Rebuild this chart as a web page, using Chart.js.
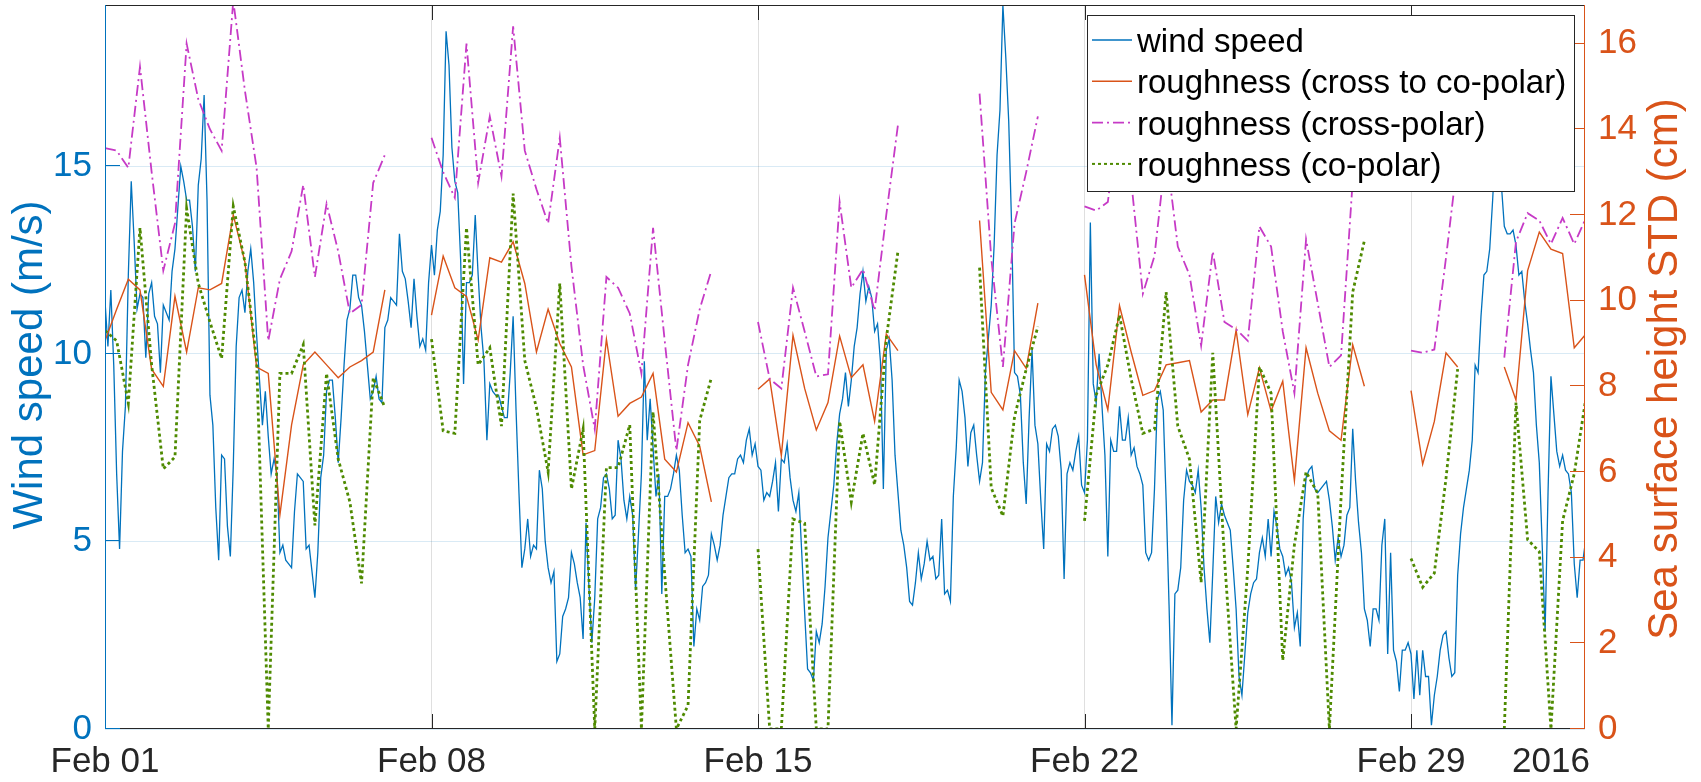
<!DOCTYPE html>
<html>
<head>
<meta charset="utf-8">
<title>Wind speed and sea surface roughness, February 2016</title>
<script src="https://cdn.jsdelivr.net/npm/chart.js@4.4.1/dist/chart.umd.min.js"></script>
<style>
  html, body { margin: 0; padding: 0; background: #ffffff; }
  #wrap { width: 1701px; height: 782px; }
</style>
</head>
<body>
<div id="wrap"><canvas id="grafico" width="1701" height="782"></canvas></div>
<script>
// time axis is in days since Feb 01 00:00
const windStepDays = 0.0625;  // wind every 1.5 h
const roughStepDays = 0.25;   // roughness every 6 h, null = no pass

// wind speed (m/s), one row per day
const windSpeed = [
  11.4, 10.2, 11.7, 9.7, 6.8, 4.8, 7.4, 8.6, 12.1, 14.6, 13.0, 11.2, 11.6, 11.5, 9.9, 11.6,
  11.9, 11.0, 10.8, 9.5, 11.3, 11.1, 10.9, 12.2, 12.8, 13.9, 15.0, 14.6, 14.1, 14.1, 13.4, 12.2,
  14.5, 15.2, 16.9, 14.1, 8.9, 8.1, 5.9, 4.5, 7.3, 7.2, 5.4, 4.6, 7.0, 10.2, 11.5, 11.7,
  11.1, 12.2, 12.8, 11.9, 10.5, 9.3, 8.1, 9.0, 7.8, 6.8, 7.2, 6.8, 4.7, 4.9, 4.5, 4.4,
  4.3, 5.8, 6.8, 6.7, 6.6, 4.8, 4.9, 4.2, 3.5, 4.7, 6.7, 7.3, 9.0, 9.3, 9.3, 8.3,
  7.1, 8.3, 9.7, 10.9, 11.2, 12.1, 12.1, 11.5, 11.3, 10.6, 9.7, 8.8, 9.0, 9.4, 8.8, 8.7,
  10.7, 10.9, 11.5, 11.4, 11.3, 13.2, 12.2, 12.0, 11.4, 10.7, 12.0, 11.0, 10.2, 10.4, 10.1, 11.9,
  12.9, 12.1, 13.3, 13.8, 15.3, 18.6, 17.7, 15.5, 14.6, 14.3, 12.5, 9.2, 11.9, 11.9, 12.1, 13.7,
  12.1, 10.7, 9.8, 7.7, 9.2, 9.0, 8.9, 8.9, 8.6, 8.3, 8.3, 9.5, 11.0, 8.5, 6.3, 4.3,
  4.8, 5.6, 4.6, 4.9, 4.8, 6.9, 6.4, 5.0, 4.3, 3.9, 4.2, 1.8, 2.0, 3.0, 3.2, 3.5,
  4.7, 4.4, 3.9, 3.5, 2.4, 5.5, 3.8, 2.3, 3.5, 5.6, 5.9, 6.7, 6.8, 6.4, 5.6, 5.7,
  7.7, 7.2, 6.1, 5.6, 6.2, 5.7, 3.7, 5.2, 6.8, 9.8, 7.7, 8.8, 7.5, 6.2, 6.8, 3.6,
  6.2, 6.2, 6.4, 6.8, 7.3, 6.9, 5.7, 4.7, 4.8, 4.6, 2.2, 3.2, 2.9, 3.8, 3.9, 4.1,
  5.2, 4.9, 4.5, 4.9, 5.7, 6.2, 6.7, 6.8, 6.8, 7.2, 7.3, 7.1, 7.7, 8.0, 7.3, 7.6,
  7.0, 6.9, 6.1, 6.3, 6.2, 6.6, 7.1, 5.8, 7.2, 7.1, 7.6, 6.7, 6.1, 5.8, 6.3, 4.7,
  3.1, 1.6, 1.5, 1.3, 2.6, 2.3, 2.8, 3.8, 5.1, 5.8, 6.5, 7.6, 8.4, 8.8, 9.5, 8.6,
  9.3, 10.2, 10.7, 11.6, 12.2, 11.4, 11.8, 11.5, 10.6, 10.8, 9.8, 6.4, 10.1, 10.4, 9.3, 7.3,
  6.3, 5.3, 4.9, 4.3, 3.4, 3.3, 3.9, 4.7, 4.0, 4.4, 5.0, 4.5, 4.6, 4.0, 4.1, 5.6,
  3.6, 3.7, 3.4, 6.2, 7.5, 9.3, 9.0, 8.3, 7.0, 7.9, 8.1, 7.3, 6.6, 7.1, 9.5, 10.4,
  11.3, 12.9, 15.3, 16.5, 19.3, 17.9, 16.2, 13.4, 9.5, 9.4, 8.9, 7.1, 6.0, 8.3, 10.1, 8.1,
  7.6, 6.1, 4.8, 7.6, 7.4, 8.0, 8.1, 7.8, 6.9, 4.0, 6.8, 7.1, 6.9, 7.4, 7.8, 6.5,
  6.3, 7.7, 13.5, 9.2, 8.7, 10.0, 8.6, 7.3, 4.6, 7.7, 7.4, 7.4, 8.6, 7.7, 7.7, 8.3,
  7.3, 7.5, 7.0, 6.8, 6.5, 4.7, 4.5, 4.7, 6.4, 8.8, 9.0, 8.5, 6.1, 3.3, 0.1, 3.6,
  3.7, 4.3, 6.1, 6.9, 6.6, 6.5, 6.3, 6.9, 5.9, 4.3, 3.2, 2.3, 4.2, 6.2, 5.5, 6.0,
  5.7, 5.5, 5.3, 4.3, 3.2, 1.4, 0.9, 2.0, 3.1, 3.6, 3.9, 4.0, 4.7, 5.1, 4.6, 5.6,
  4.6, 5.8, 5.4, 4.8, 4.6, 4.1, 4.3, 3.9, 2.7, 3.1, 2.2, 5.6, 6.7, 6.9, 7.0, 6.4,
  6.3, 6.4, 6.5, 6.6, 6.1, 5.4, 4.5, 5.1, 4.6, 4.9, 5.7, 5.9, 8.0, 6.6, 5.5, 4.7,
  3.2, 2.9, 2.2, 3.2, 3.2, 2.9, 4.9, 5.6, 2.0, 4.7, 2.1, 1.8, 1.0, 2.1, 2.1, 2.3,
  2.0, 0.8, 2.1, 0.9, 2.1, 1.4, 1.4, 0.1, 0.9, 1.4, 2.1, 2.5, 2.6, 1.9, 1.4, 1.5,
  4.1, 5.2, 5.9, 6.4, 6.9, 7.7, 9.7, 9.5, 11.0, 12.1, 12.2, 12.8, 14.1, 15.6, 15.8, 14.5,
  13.4, 13.2, 13.2, 13.3, 12.9, 12.1, 12.2, 11.4, 10.8, 10.1, 9.5, 8.1, 7.1, 4.9, 2.6, 6.3,
  9.4, 8.4, 7.4, 7.0, 7.3, 6.9, 6.8, 6.3, 4.4, 3.5, 4.5, 4.5, 5.1
];

// sea surface height STD (cm) from cross to co-polar ratio
const roughCrossToCo = [
  9.06, 9.8, 10.5, 10.25,   8.4, 8.0, 10.1, 8.8,   10.3, 10.25, 10.4, 12.0,
  10.9, 8.45, 8.3, 5.0,     7.1, 8.5, 8.8, 8.5,    8.2, 8.45, 8.6, 8.8,
  10.25, null, null, null,  9.66, 11.04, 10.3, 10.1,  9.08, 11.0, 10.9, 11.37,
  10.4, 8.8, 9.8, 9.0,      8.45, 6.4, 6.5, 9.1,   7.3, 7.6, 7.75, 8.3,
  6.3, 6.0, 7.15, 6.6,      5.3, null, null, null,
  7.93, 8.17, 6.38, 9.19,   7.95, 6.98, 7.62, 9.17,  8.2, 8.5, 7.18, 9.22,
  8.83, null, null, null,   null, null, null, 11.87,  7.86, 7.45, 8.83, 8.42,
  9.94, null, null, null,
  10.6, 8.5, 7.45, 9.88,    8.8, 7.79, 7.9, 8.5,   8.55, 8.6, 7.4, 7.68,
  7.68, 9.31, 7.34, 8.43,   7.42, 8.12, 5.8, 8.9,  7.84, 6.96, 6.74, 8.97,
  8.0, null, null, null,
  7.9, 6.18, 7.18, 8.78,    8.45, null, null, null,
  8.45, 7.68, 10.7, 11.6,   11.2, 11.1, 8.9, 9.22
];

// cross-polar
const roughCross = [
  13.56, 13.5, 13.1, 15.46,  13.0, 10.7, 11.8, 16.0,  14.7, 14.0, 13.5, 17.0,
  14.9, 13.1, 9.06, 10.5,    11.15, 12.7, 10.55, 12.26,  11.15, 9.7, 9.9, 12.75,
  13.4, null, null, null,    13.8, 13.0, 12.4, 16.0,  12.75, 14.3, 12.9, 16.4,
  13.5, 12.6, 11.8, 13.8,    10.8, 8.5, 7.0, 10.55,  10.3, 9.7, 8.3, 11.7,
  9.06, 6.5, 8.5, 9.8,       10.7, null, null, null,
  9.5, 8.17, 7.95, 10.3,     9.28, 8.23, 8.28, 12.3,  10.3, 10.73, 9.77, 12.0,
  14.1, null, null, null,    null, null, null, 14.83,  11.0, 8.45, 11.8, 13.0,
  14.3, null, null, null,
  12.2, 12.1, 12.3, 14.5,    12.8, 10.16, 11.04, 13.5,  11.26, 10.6, 8.95, 11.15,
  9.5, 9.33, 9.06, 11.73,    11.26, 9.28, 7.84, 11.43,  9.94, 8.45, 8.72, 12.8,
  14.5, null, null, null,
  8.83, 8.78, 8.86, 11.0,    13.3, null, null, null,
  8.67, 11.37, 12.04, 11.87, 11.32, 11.93, 11.32, 11.93
];

// co-polar
const roughCo = [
  9.3, 9.06, 7.6, 11.7,     8.5, 6.07, 6.35, 12.15,  10.4, 9.5, 8.65, 12.2,
  10.9, 8.6, 0, 8.3,        8.3, 8.97, 4.75, 8.3,    6.3, 5.3, 3.4, 8.2,
  7.5, null, null, null,    9.1, 6.96, 6.9, 11.7,    8.5, 8.9, 7.07, 12.5,
  8.6, 7.5, 6.0, 10.4,      5.6, 7.0, 0, 6.1,        6.1, 7.1, 0, 7.4,
  3.6, 0, 0.55, 7.2,        8.2, null, null, null,
  4.2, 0, 0, 4.9,           4.8, 0, 0, 7.18,         5.3, 6.9, 5.7, 9.1,
  11.15, null, null, null,  null, null, null, 10.77,  5.63, 4.97, 7.29, 8.4,
  9.39, null, null, null,
  4.86, 7.8, 8.5, 9.66,     8.17, 6.9, 7.0, 10.2,    7.07, 6.3, 3.42, 8.78,
  4.0, 0, 3.75, 8.45,       7.84, 1.6, 4.3, 6.0,     5.5, 0, 5.4, 10.2,
  11.4, null, null, null,
  3.98, 3.31, 3.64, 5.85,   8.4, null, null, null,
  0, 7.62, 4.42, 4.14,      0, 4.86, 5.96, 7.73
];

const xTickDays = [0, 7, 14, 21, 28, 31];
const xTickLabels = ["Feb 01", "Feb 08", "Feb 15", "Feb 22", "Feb 29", "2016"];
const windTicks = [0, 5, 10, 15];
const heightTicks = [0, 2, 4, 6, 8, 10, 12, 14, 16];
const seriesNames = [
  "wind speed",
  "roughness (cross to co-polar)",
  "roughness (cross-polar)",
  "roughness (co-polar)"
];
const windAxisTitle = "Wind speed (m/s)";
const heightAxisTitle = "Sea surface height STD (cm)";

const fontFamily = '"Liberation Sans", Arial, Helvetica, sans-serif';
const blue = "#0072BD";
const orange = "#D95319";
const magenta = "#C63AC6";
const green = "#4E8A00";
const dark = "#262626";

function toPoints(values, step) {
  return values.map((v, i) => ({ x: i * step, y: v }));
}

// box, inward ticks, legend and axis titles drawn over the plot
const axisExtras = {
  id: "axisExtras",
  afterDatasetsDraw(chart) {
    const ctx = chart.ctx;
    const area = chart.chartArea;
    const xScale = chart.scales.x;
    const yLeft = chart.scales.y;
    const yRight = chart.scales.y1;
    const tickLen = 15;

    function seg(x1, y1, x2, y2) {
      ctx.beginPath();
      ctx.moveTo(x1, y1);
      ctx.lineTo(x2, y2);
      ctx.stroke();
    }

    ctx.save();
    ctx.lineWidth = 1;
    ctx.setLineDash([]);

    ctx.strokeStyle = dark;
    seg(area.left, area.top + 0.5, area.right, area.top + 0.5);
    seg(area.left, area.bottom - 0.5, area.right, area.bottom - 0.5);
    xTickDays.slice(0, 5).forEach((d) => {
      const px = Math.round(xScale.getPixelForValue(d)) + 0.5;
      seg(px, area.bottom, px, area.bottom - tickLen);
      seg(px, area.top, px, area.top + tickLen);
    });

    ctx.strokeStyle = blue;
    seg(area.left + 0.5, area.top, area.left + 0.5, area.bottom);
    windTicks.forEach((v) => {
      const py = Math.round(yLeft.getPixelForValue(v)) - 0.5;
      seg(area.left, py, area.left + tickLen, py);
    });

    ctx.strokeStyle = orange;
    seg(area.right - 0.5, area.top, area.right - 0.5, area.bottom);
    heightTicks.forEach((v) => {
      const py = Math.round(yRight.getPixelForValue(v)) - 0.5;
      seg(area.right - tickLen, py, area.right, py);
    });

    // legend box in the upper right corner
    const box = { x: 1087.5, y: 15.5, w: 487, h: 176 };
    ctx.fillStyle = "#ffffff";
    ctx.fillRect(box.x, box.y, box.w, box.h);
    ctx.strokeStyle = dark;
    ctx.strokeRect(box.x, box.y, box.w, box.h);

    ctx.font = "33px " + fontFamily;
    ctx.textAlign = "left";
    ctx.textBaseline = "middle";
    chart.data.datasets.forEach((ds, k) => {
      const y = 40 + 41.3 * k;
      ctx.strokeStyle = ds.borderColor;
      ctx.lineWidth = k === 3 ? 2 : ds.borderWidth;
      ctx.setLineDash(ds.borderDash || []);
      seg(1092, y, 1132, y);
      ctx.setLineDash([]);
      ctx.fillStyle = "#000000";
      ctx.fillText(ds.label, 1137, y + 3);
    });

    // axis titles, both reading bottom to top
    ctx.font = "42px " + fontFamily;
    ctx.textAlign = "center";
    ctx.textBaseline = "middle";

    ctx.save();
    ctx.translate(30, 365);
    ctx.rotate(-Math.PI / 2);
    ctx.fillStyle = blue;
    ctx.fillText(windAxisTitle, 0, 0);
    ctx.restore();

    ctx.save();
    ctx.translate(1665, 369);
    ctx.rotate(-Math.PI / 2);
    ctx.fillStyle = orange;
    ctx.fillText(heightAxisTitle, 0, 0);
    ctx.restore();

    ctx.restore();
  }
};

// fixed axis sizes so the plot box sits where it should
function fixWidth(width) {
  return (scale) => {
    scale.width = width;
    scale.paddingTop = 0;
    scale.paddingBottom = 0;
  };
}

function criarGrafico() {
  const ctx = document.getElementById("grafico").getContext("2d");
  const tickFont = { family: fontFamily, size: 35 };

  window.grafico = new Chart(ctx, {
    type: "line",
    data: {
      datasets: [
        {
          label: seriesNames[0],
          data: toPoints(windSpeed, windStepDays),
          yAxisID: "y",
          borderColor: blue,
          borderWidth: 1.3,
          order: 4
        },
        {
          label: seriesNames[1],
          data: toPoints(roughCrossToCo, roughStepDays),
          yAxisID: "y1",
          borderColor: orange,
          borderWidth: 1.4,
          order: 3
        },
        {
          label: seriesNames[2],
          data: toPoints(roughCross, roughStepDays),
          yAxisID: "y1",
          borderColor: magenta,
          borderWidth: 1.8,
          borderDash: [11, 4, 2, 4],
          order: 2
        },
        {
          label: seriesNames[3],
          data: toPoints(roughCo, roughStepDays),
          yAxisID: "y1",
          borderColor: green,
          borderWidth: 2.8,
          borderDash: [3, 3],
          order: 1
        }
      ]
    },
    options: {
      responsive: false,
      animation: false,
      devicePixelRatio: 1,
      spanGaps: false,
      layout: { padding: { top: 5, left: 0, right: 0, bottom: 0 } },
      elements: {
        point: { radius: 0 },
        line: { tension: 0, fill: false }
      },
      plugins: {
        legend: { display: false },
        tooltip: { enabled: false }
      },
      scales: {
        x: {
          type: "linear",
          min: 0,
          max: 31.73,
          afterBuildTicks: (scale) => {
            scale.ticks = xTickDays.map((v) => ({ value: v }));
          },
          afterFit: (scale) => {
            scale.height = 53;
            scale.paddingLeft = 0;
            scale.paddingRight = 0;
          },
          ticks: {
            autoSkip: false,
            maxRotation: 0,
            padding: 12,
            color: dark,
            font: tickFont,
            callback: (value, index) => xTickLabels[index]
          },
          grid: {
            drawTicks: false,
            color: (c) => (c.index < 5 ? "rgba(38,38,38,0.15)" : "rgba(0,0,0,0)")
          },
          border: { display: false }
        },
        y: {
          position: "left",
          min: 0,
          max: 19.3,
          afterBuildTicks: (scale) => {
            scale.ticks = windTicks.map((v) => ({ value: v }));
          },
          afterFit: fixWidth(105),
          ticks: { padding: 13, color: blue, font: tickFont },
          grid: { drawTicks: false, color: "rgba(0,114,189,0.15)" },
          border: { display: false }
        },
        y1: {
          position: "right",
          min: 0,
          max: 16.9,
          afterBuildTicks: (scale) => {
            scale.ticks = heightTicks.map((v) => ({ value: v }));
          },
          afterFit: fixWidth(116),
          ticks: { padding: 13, color: orange, font: tickFont },
          grid: { drawTicks: false, drawOnChartArea: false },
          border: { display: false }
        }
      }
    },
    plugins: [axisExtras]
  });
}

document.addEventListener("DOMContentLoaded", criarGrafico);
</script>
</body>
</html>
